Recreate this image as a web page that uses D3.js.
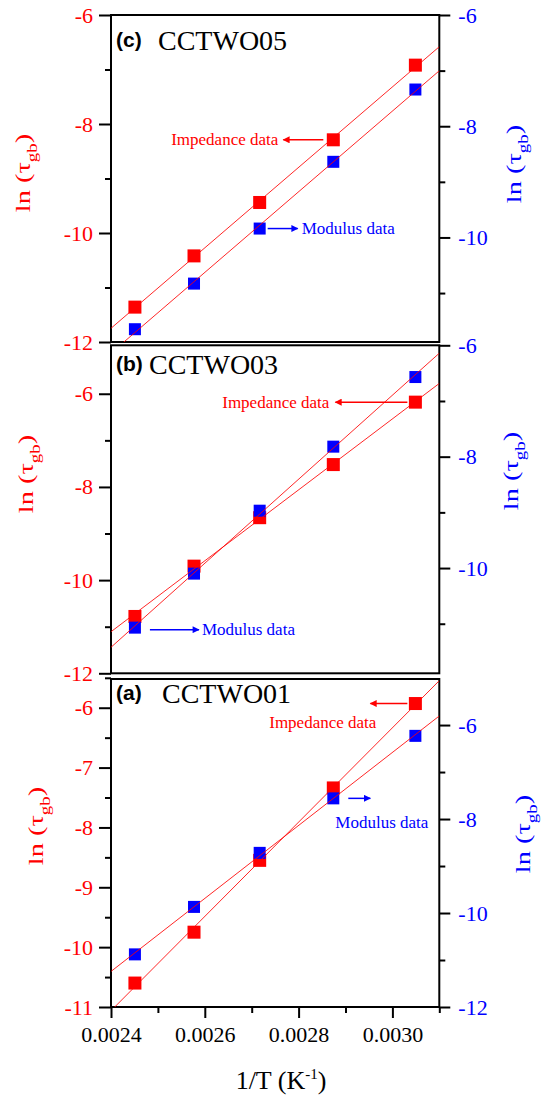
<!DOCTYPE html>
<html>
<head>
<meta charset="utf-8">
<script src="https://cdn.jsdelivr.net/npm/d3@7"></script>
<style>
body { margin: 0; background: #fff; }
text { font-family: "Liberation Serif", "Times New Roman", serif; }
</style>
</head>
<body>
<svg id="chart" width="551" height="1096"></svg>
<script>
// 1/T (K^-1) for T = 408, 388, 368, 348, 328 K
var invT = [0.002451, 0.002577, 0.002717, 0.002874, 0.003049];

// ln(tau_gb)
var impC = [-11.36, -10.42, -9.44, -8.29, -6.92];
var modC = [-11.65, -10.83, -9.84, -8.64, -7.34];
var impB = [-10.78, -9.70, -8.66, -7.52, -6.18];
var modB = [-11.07, -10.10, -8.97, -7.82, -6.57];
var impA = [-10.60, -9.75, -8.55, -7.34, -5.93];
var modA = [-10.88, -9.87, -8.72, -7.56, -6.23];

var sampleNames = ['CCTWO05', 'CCTWO03', 'CCTWO01'];
var panelLetters = ['(c)', '(b)', '(a)'];

var xMajor = [0.0024, 0.0026, 0.0028, 0.0030];
var xMinor = [0.0025, 0.0027, 0.0029, 0.0031];

var leftMajorC = [-12, -10, -8, -6], leftMinorC = [-11, -9, -7];
var rightMajorC = [-10, -8, -6], rightMinorC = [-11, -9, -7];
var leftMajorB = [-12, -10, -8, -6], leftMinorB = [-11, -9, -7];
var rightMajorB = [-10, -8, -6], rightMinorB = [-11, -9, -7];
var leftMajorA = [-11, -10, -9, -8, -7, -6], leftMinorA = [-10.5, -9.5, -8.5, -7.5, -6.5, -5.5];
var rightMajorA = [-12, -10, -8, -6], rightMinorA = [-11, -9, -7];

var RED = '#ff0000', BLUE = '#0000ff';
var SERIF = '"Liberation Serif", "Times New Roman", serif';
var svg = d3.select('#chart');
var x = d3.scaleLinear().domain([0.0024, 0.0031]).range([111, 439.3]);

var defs = svg.append('defs');
[['arrR', RED], ['arrB', BLUE]].forEach(function (a) {
    defs.append('marker').attr('id', a[0])
        .attr('viewBox', '0 0 10 10').attr('refX', 9).attr('refY', 5)
        .attr('markerWidth', 10).attr('markerHeight', 7)
        .attr('markerUnits', 'userSpaceOnUse').attr('orient', 'auto')
        .append('path').attr('d', 'M0,0L10,5L0,10z').attr('fill', a[1]);
});

// layout of the three stacked panels (top to bottom: c, b, a)
var panels = [
    { top: 15, bottom: 342, left: [-12, -6], right: [-11.88, -6], imp: impC, mod: modC,
      lMaj: leftMajorC, lMin: leftMinorC, rMaj: rightMajorC, rMin: rightMinorC,
      letterY: 50, nameX: 158, titleL: [30, 173], titleR: [521, 164],
      impNote: { i: 3, x1: -10, x2: -50, tx: -55, ty: 0, anchor: 'end' },
      modNote: { i: 2, x1: 8, x2: 38, tx: 42, ty: 0, ay: 0, anchor: 'start' } },
    { top: 345.3, bottom: 673.3, left: [-12, -4.96], right: [-11.89, -6], imp: impB, mod: modB,
      lMaj: leftMajorB, lMin: leftMinorB, rMaj: rightMajorB, rMin: rightMinorB,
      letterY: 374, nameX: 149, titleL: [33, 474], titleR: [518, 471],
      impNote: { i: 4, x1: -8, x2: -80, tx: -86, ty: 0, anchor: 'end' },
      modNote: { i: 0, x1: 15, x2: 64, tx: 67, ty: 2, ay: 2, anchor: 'start' } },
    { top: 679, bottom: 1007, left: [-11, -5.52], right: [-12, -5.02], imp: impA, mod: modA,
      lMaj: leftMajorA, lMin: leftMinorA, rMaj: rightMajorA, rMin: rightMinorA,
      letterY: 703, nameX: 162, titleL: [43, 826], titleR: [530, 834],
      impNote: { i: 4, x1: -8, x2: -45, tx: -39, ty: 19, anchor: 'end' },
      modNote: { i: 3, x1: 15, x2: 37, tx: 2, ty: 24, ay: 0, anchor: 'start' } }
];

function fit(xs, ys) {
    var mx = d3.mean(xs), my = d3.mean(ys);
    var sxy = d3.sum(xs, function (v, i) { return (v - mx) * (ys[i] - my); });
    var sxx = d3.sum(xs, function (v) { return (v - mx) * (v - mx); });
    var b = sxy / sxx;
    return function (v) { return my + b * (v - mx); };
}

function plain(d) { return String(d); }

function styleAxis(g, color, size) {
    g.attr('font-family', SERIF);
    g.select('.domain').remove();
    g.selectAll('.tick line').attr('stroke', '#000').attr('stroke-width', 2);
    g.selectAll('.tick text').attr('fill', color).style('font-size', size + 'px')
        .style('font-family', SERIF);
}

// rotated "ln (τgb)" title, stretched along its length like the original
function yTitle(g, px, py, color) {
    var t = g.append('text')
        .attr('transform', 'translate(' + px + ',' + py + ') rotate(-90) scale(1.35,1)')
        .attr('text-anchor', 'middle').attr('fill', color).style('font-size', '21px');
    t.append('tspan').text('ln (\u03c4');
    t.append('tspan').attr('dy', 7).style('font-size', '14px').text('gb');
    t.append('tspan').attr('dy', -7).text(')');
}

panels.forEach(function (p, k) {
    var g = svg.append('g');
    var yL = d3.scaleLinear().domain(p.left).range([p.bottom, p.top]);
    var yR = d3.scaleLinear().domain(p.right).range([p.bottom, p.top]);

    var clipId = 'clip' + k;
    defs.append('clipPath').attr('id', clipId).append('rect')
        .attr('x', x.range()[0]).attr('y', p.top)
        .attr('width', x.range()[1] - x.range()[0]).attr('height', p.bottom - p.top);

    // axes ticks
    g.append('g').attr('transform', 'translate(' + x.range()[0] + ',0)')
        .call(d3.axisLeft(yL).tickValues(p.lMaj).tickSize(12).tickPadding(6).tickFormat(plain))
        .call(styleAxis, RED, 22);
    g.append('g').attr('transform', 'translate(' + x.range()[0] + ',0)')
        .call(d3.axisLeft(yL).tickValues(p.lMin).tickSize(6).tickFormat(''))
        .call(styleAxis, RED, 22);
    g.append('g').attr('transform', 'translate(' + x.range()[1] + ',0)')
        .call(d3.axisRight(yR).tickValues(p.rMaj).tickSize(11).tickPadding(8).tickFormat(plain))
        .call(styleAxis, BLUE, 22);
    g.append('g').attr('transform', 'translate(' + x.range()[1] + ',0)')
        .call(d3.axisRight(yR).tickValues(p.rMin).tickSize(6).tickFormat(''))
        .call(styleAxis, BLUE, 22);

    if (k === panels.length - 1) {
        g.append('g').attr('transform', 'translate(0,' + p.bottom + ')')
            .call(d3.axisBottom(x).tickValues(xMajor).tickSize(11).tickPadding(8).tickFormat(d3.format('.4f')))
            .call(styleAxis, '#000', 22);
        g.append('g').attr('transform', 'translate(0,' + p.bottom + ')')
            .call(d3.axisBottom(x).tickValues(xMinor).tickSize(6).tickFormat(''))
            .call(styleAxis, '#000', 22);
    }

    // frame
    g.append('rect').attr('x', x.range()[0]).attr('y', p.top)
        .attr('width', x.range()[1] - x.range()[0]).attr('height', p.bottom - p.top)
        .attr('fill', 'none').attr('stroke', '#000').attr('stroke-width', 2);

    // markers
    var sq = 13;
    g.selectAll('.imp').data(p.imp).enter().append('rect')
        .attr('x', function (d, i) { return x(invT[i]) - sq / 2; })
        .attr('y', function (d) { return yL(d) - sq / 2; })
        .attr('width', sq).attr('height', sq).attr('fill', RED);
    g.selectAll('.mod').data(p.mod).enter().append('rect')
        .attr('x', function (d, i) { return x(invT[i]) - (sq - 1) / 2; })
        .attr('y', function (d) { return yR(d) - (sq - 1) / 2; })
        .attr('width', sq - 1).attr('height', sq - 1).attr('fill', BLUE);

    // linear fits (both drawn in red)
    var fl = g.append('g').attr('clip-path', 'url(#' + clipId + ')');
    var fi = fit(invT, p.imp), fm = fit(invT, p.mod);
    fl.append('line').attr('x1', x(0.0024)).attr('x2', x(0.0031))
        .attr('y1', yL(fi(0.0024))).attr('y2', yL(fi(0.0031)))
        .attr('stroke', RED).attr('stroke-width', 1).attr('stroke-opacity', 0.85);
    fl.append('line').attr('x1', x(0.0024)).attr('x2', x(0.0031))
        .attr('y1', yR(fm(0.0024))).attr('y2', yR(fm(0.0031)))
        .attr('stroke', RED).attr('stroke-width', 1).attr('stroke-opacity', 0.85);

    // annotations
    var ni = p.impNote, px = x(invT[ni.i]), py = yL(p.imp[ni.i]);
    g.append('line').attr('x1', px + ni.x1).attr('x2', px + ni.x2).attr('y1', py).attr('y2', py)
        .attr('stroke', RED).attr('stroke-width', 1.5).attr('marker-end', 'url(#arrR)');
    g.append('text').attr('x', px + ni.tx).attr('y', py + ni.ty).attr('dy', '0.33em')
        .attr('text-anchor', ni.anchor).attr('fill', RED).style('font-size', '17px').text('Impedance data');

    var nm = p.modNote, qx = x(invT[nm.i]), qy = yR(p.mod[nm.i]);
    g.append('line').attr('x1', qx + nm.x1).attr('x2', qx + nm.x2).attr('y1', qy + nm.ay).attr('y2', qy + nm.ay)
        .attr('stroke', BLUE).attr('stroke-width', 1.5).attr('marker-end', 'url(#arrB)');
    g.append('text').attr('x', qx + nm.tx).attr('y', qy + nm.ty).attr('dy', '0.33em')
        .attr('text-anchor', nm.anchor).attr('fill', BLUE).style('font-size', '17px').text('Modulus data');

    // panel label
    g.append('text').attr('x', 116).attr('y', p.letterY - 3)
        .style('font-family', '"Liberation Sans", Arial, sans-serif').style('font-weight', 'bold')
        .style('font-size', '21px').text(panelLetters[k]);
    g.append('text').attr('x', p.nameX).attr('y', p.letterY)
        .style('font-size', '28px').text(sampleNames[k]);

    yTitle(g, p.titleL[0], p.titleL[1], RED);
    yTitle(g, p.titleR[0], p.titleR[1], BLUE);
});

// x axis title
var xt = svg.append('text').attr('x', 281).attr('y', 1089).attr('text-anchor', 'middle')
    .style('font-size', '26px');
xt.append('tspan').text('1/T (K');
xt.append('tspan').attr('dy', -10).style('font-size', '15px').text('-1');
xt.append('tspan').attr('dy', 10).text(')');
</script>
</body>
</html>
